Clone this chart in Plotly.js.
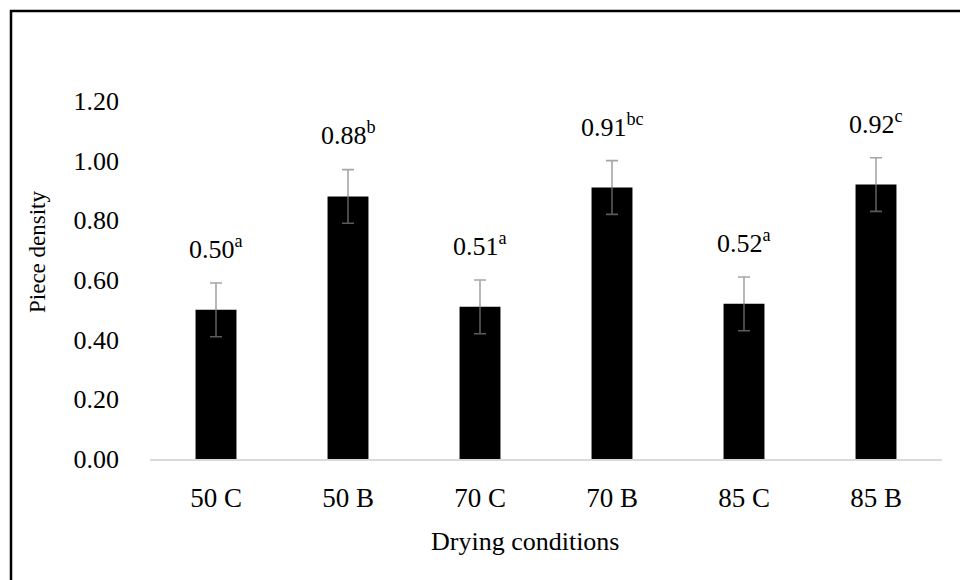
<!DOCTYPE html>
<html>
<head>
<meta charset="utf-8">
<script src="https://cdn.plot.ly/plotly-3.0.1.min.js"></script>
<style>html,body{margin:0;padding:0;background:#fff;}#chart{width:960px;height:580px;}</style>
</head>
<body>
<div id="chart"></div>
<script>
const categories = ['50 C', '50 B', '70 C', '70 B', '85 C', '85 B'];
const density = [0.50, 0.88, 0.51, 0.91, 0.52, 0.92];
const errors = [0.09, 0.09, 0.09, 0.09, 0.09, 0.09];
const letters = ['a', 'b', 'a', 'bc', 'a', 'c'];
const yTicks = [0, 0.2, 0.4, 0.6, 0.8, 1.0, 1.2];

const font = '"Liberation Serif", "Times New Roman", Times, "DejaVu Serif", serif';

const trace = {
  type: 'bar',
  x: categories,
  y: density,
  marker: {color: '#000000'},
  error_y: {type: 'data', array: errors, visible: true, color: 'rgba(128,128,128,0.7)', thickness: 1.6, width: 6},
  hoverinfo: 'none'
};

const annotations = categories.map((c, i) => ({
  x: c, y: density[i], xref: 'x', yref: 'y',
  text: density[i].toFixed(2) + '<sup>' + letters[i] + '</sup>',
  showarrow: false, xanchor: 'center', yanchor: 'bottom', yshift: 44,
  font: {family: font, size: 26, color: '#000'}
}));
annotations.push({
  xref: 'paper', yref: 'paper', x: (37 - 150) / 792, y: (459 - 252) / 358,
  xanchor: 'center', yanchor: 'middle',
  text: 'Piece density', textangle: -90, showarrow: false,
  font: {family: font, size: 23, color: '#000'}
});
annotations.push({
  xref: 'paper', yref: 'paper', x: (525 - 150) / 792, y: (459 - 541) / 358,
  xanchor: 'center', yanchor: 'middle',
  text: 'Drying conditions', showarrow: false,
  font: {family: font, size: 26, color: '#000'}
});

const layout = {
  width: 960, height: 580,
  margin: {l: 150, r: 18, t: 101, b: 121, pad: 0},
  paper_bgcolor: '#fff', plot_bgcolor: '#fff',
  bargap: 0.69,
  showlegend: false,
  font: {family: font, color: '#000'},
  xaxis: {
    showgrid: false, zeroline: false, showline: true, linecolor: '#d9d9d9', linewidth: 1.5,
    ticks: '', tickfont: {family: font, size: 27, color: '#000'}, ticklabelstandoff: 14
  },
  yaxis: {
    range: [0, 1.2], tickvals: yTicks, tickformat: '.2f',
    showgrid: false, zeroline: false, showline: false, ticks: '',
    tickfont: {family: font, size: 26, color: '#000'}, ticklabelstandoff: 30
  },
  annotations: annotations,
  shapes: [{
    type: 'rect', xref: 'paper', yref: 'paper',
    x0: (11 - 150) / 792, x1: (970 - 150) / 792,
    y0: (459 - 590) / 358, y1: (459 - 11) / 358,
    line: {color: '#000', width: 2.5}, fillcolor: 'rgba(0,0,0,0)', layer: 'below'
  }]
};

Plotly.newPlot('chart', [trace], layout, {displayModeBar: false, staticPlot: true});
</script>
</body>
</html>
